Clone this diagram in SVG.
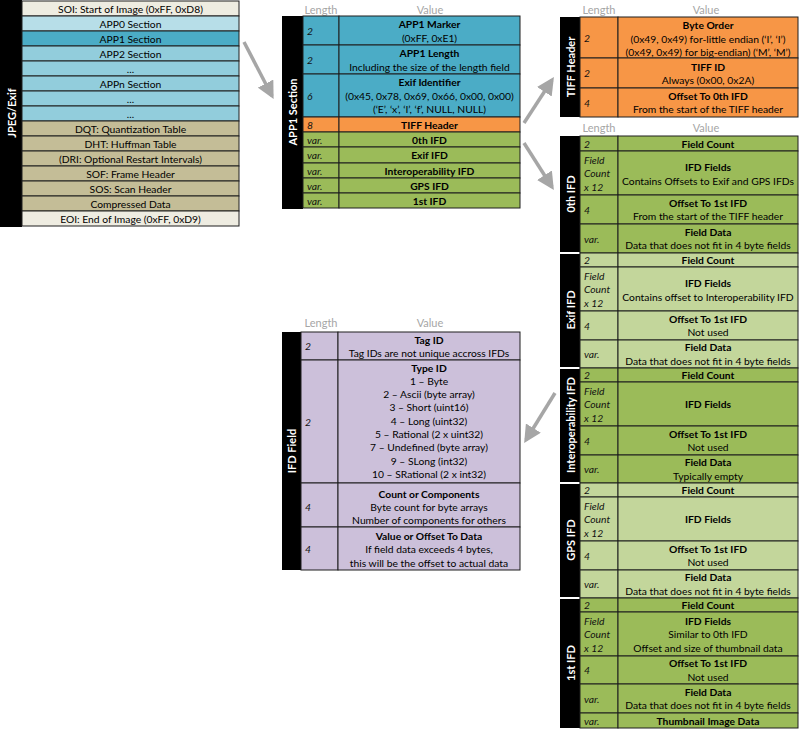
<svg xmlns="http://www.w3.org/2000/svg" width="800" height="730" viewBox="0 0 800 730">
<style>
  text { font-family: Lato, "Open Sans", "Liberation Sans", sans-serif; font-size: 10.3px; fill: #000; text-anchor: middle; dominant-baseline: central; }
  .b { font-weight: bold; }
  .len { text-anchor: start; font-style: italic; fill: #111; }
  .hdr { fill: #a6a6a6; font-size: 11px; }
  .side { fill: #fff; font-weight: bold; font-size: 11px; }
  .bar { fill: #000; }
  .cell { stroke: #1e1e1e; stroke-width: 1; }
  .beige { fill: #eeece1; }
  .lb { fill: #b7dee8; }
  .mb { fill: #92cddc; }
  .blue { fill: #4bacc6; }
  .tan { fill: #c4bd97; }
  .orange { fill: #f79646; }
  .green { fill: #9bbb59; }
  .lgreen { fill: #c3d69b; }
  .purple { fill: #ccc0da; }
  .arrow { stroke: #a6a6a6; stroke-width: 3.5; fill: none; marker-end: url(#head); }
</style>
<defs>
  <marker id="head" viewBox="0 0 10 10" refX="8" refY="5" markerWidth="5" markerHeight="5" orient="auto" markerUnits="strokeWidth">
    <path d="M0,0 L10,5 L0,10 z" fill="#a6a6a6"/>
  </marker>
</defs>
<rect width="800" height="730" fill="#fff"/>

<!-- JPEG/Exif file layout -->
<g id="jpeg-exif">
  <rect class="bar" x="0" y="0" width="22" height="227"/>
  <text class="side" transform="translate(11,113) rotate(-90)">JPEG/Exif</text>
  <rect class="cell beige" x="22" y="1" width="217" height="15"/><text x="130.5" y="8.5">SOI: Start of Image (0xFF, 0xD8)</text>
  <rect class="cell lb" x="22" y="16" width="217" height="15"/><text x="130.5" y="23.5">APP0 Section</text>
  <rect class="cell blue" x="22" y="31" width="217" height="15"/><text x="130.5" y="38.5">APP1 Section</text>
  <rect class="cell mb" x="22" y="46" width="217" height="15"/><text x="130.5" y="53.5">APP2 Section</text>
  <rect class="cell mb" x="22" y="61" width="217" height="15"/><text x="130.5" y="68.5">...</text>
  <rect class="cell mb" x="22" y="76" width="217" height="15"/><text x="130.5" y="83.5">APPn Section</text>
  <rect class="cell mb" x="22" y="91" width="217" height="15"/><text x="130.5" y="98.5">...</text>
  <rect class="cell mb" x="22" y="106" width="217" height="15"/><text x="130.5" y="113.5">...</text>
  <rect class="cell tan" x="22" y="121" width="217" height="15"/><text x="130.5" y="128.5">DQT: Quantization Table</text>
  <rect class="cell tan" x="22" y="136" width="217" height="15"/><text x="130.5" y="143.5">DHT: Huffman Table</text>
  <rect class="cell tan" x="22" y="151" width="217" height="15"/><text x="130.5" y="158.5">(DRI: Optional Restart Intervals)</text>
  <rect class="cell tan" x="22" y="166" width="217" height="15"/><text x="130.5" y="173.5">SOF: Frame Header</text>
  <rect class="cell tan" x="22" y="181" width="217" height="15"/><text x="130.5" y="188.5">SOS: Scan Header</text>
  <rect class="cell tan" x="22" y="196" width="217" height="15"/><text x="130.5" y="203.5">Compressed Data</text>
  <rect class="cell beige" x="22" y="211" width="217" height="15"/><text x="130.5" y="218.5">EOI: End of Image (0xFF, 0xD9)</text>
</g>

<!-- APP1 section -->
<g id="app1-section">
  <text class="hdr" x="321" y="9">Length</text><text class="hdr" x="430" y="9">Value</text>
  <rect class="bar" x="282" y="16" width="21" height="193"/>
  <text class="side" transform="translate(292.5,112) rotate(-90)">APP1 Section</text>
  <rect class="cell blue" x="303" y="16" width="36" height="29"/><rect class="cell blue" x="339" y="16" width="181" height="29"/>
  <text class="len" x="307" y="30.5">2</text><text class="b" x="429.5" y="24">APP1 Marker</text><text x="429.5" y="38">(0xFF, 0xE1)</text>
  <rect class="cell blue" x="303" y="45" width="36" height="29"/><rect class="cell blue" x="339" y="45" width="181" height="29"/>
  <text class="len" x="307" y="59.5">2</text><text class="b" x="429.5" y="53">APP1 Length</text><text x="429.5" y="67">Including the size of the length field</text>
  <rect class="cell blue" x="303" y="74" width="36" height="43"/><rect class="cell blue" x="339" y="74" width="181" height="43"/>
  <text class="len" x="307" y="95.5">6</text><text class="b" x="429.5" y="82">Exif Identifier</text><text x="429.5" y="95.5">(0x45, 0x78, 0x69, 0x66, 0x00, 0x00)</text><text x="429.5" y="109">(‘E’, ‘x’, ‘I’, ‘f’, NULL, NULL)</text>
  <rect class="cell orange" x="303" y="117" width="36" height="15"/><rect class="cell orange" x="339" y="117" width="181" height="15"/>
  <text class="len" x="307" y="124.5">8</text><text class="b" x="429.5" y="124.5">TIFF Header</text>
  <rect class="cell green" x="303" y="132" width="36" height="15"/><rect class="cell green" x="339" y="132" width="181" height="15"/>
  <text class="len" x="307" y="139.5">var.</text><text class="b" x="429.5" y="139.5">0th IFD</text>
  <rect class="cell green" x="303" y="147" width="36" height="16"/><rect class="cell green" x="339" y="147" width="181" height="16"/>
  <text class="len" x="307" y="155">var.</text><text class="b" x="429.5" y="155">Exif IFD</text>
  <rect class="cell green" x="303" y="163" width="36" height="15"/><rect class="cell green" x="339" y="163" width="181" height="15"/>
  <text class="len" x="307" y="170.5">var.</text><text class="b" x="429.5" y="170.5">Interoperability IFD</text>
  <rect class="cell green" x="303" y="178" width="36" height="15"/><rect class="cell green" x="339" y="178" width="181" height="15"/>
  <text class="len" x="307" y="185.5">var.</text><text class="b" x="429.5" y="185.5">GPS IFD</text>
  <rect class="cell green" x="303" y="193" width="36" height="15"/><rect class="cell green" x="339" y="193" width="181" height="15"/>
  <text class="len" x="307" y="200.5">var.</text><text class="b" x="429.5" y="200.5">1st IFD</text>
</g>

<!-- TIFF header -->
<g id="tiff-header">
  <text class="hdr" x="599" y="9">Length</text><text class="hdr" x="706" y="9">Value</text>
  <rect class="bar" x="560" y="17" width="20" height="100"/>
  <text class="side" transform="translate(570,67) rotate(-90)">TIFF Header</text>
  <rect class="cell orange" x="580" y="17" width="38" height="41"/><rect class="cell orange" x="618" y="17" width="180" height="41"/>
  <text class="len" x="584" y="37.5">2</text><text class="b" x="708" y="25">Byte Order</text><text x="708" y="38.5">(0x49, 0x49) for-little endian (‘I’, ‘I’)</text><text x="708" y="52">(0x49, 0x49) for big-endian) (‘M’, ‘M’)</text>
  <rect class="cell orange" x="580" y="58" width="38" height="30"/><rect class="cell orange" x="618" y="58" width="180" height="30"/>
  <text class="len" x="584" y="73">2</text><text class="b" x="708" y="66.5">TIFF ID</text><text x="708" y="80">Always (0x00, 0x2A)</text>
  <rect class="cell orange" x="580" y="88" width="38" height="29"/><rect class="cell orange" x="618" y="88" width="180" height="29"/>
  <text class="len" x="584" y="102.5">4</text><text class="b" x="708" y="95.5">Offset To 0th IFD</text><text x="708" y="109">From the start of the TIFF header</text>
</g>

<!-- 0th IFD -->
<g id="ifd-0th">
  <text class="hdr" x="599" y="127">Length</text><text class="hdr" x="706" y="127">Value</text>
  <rect class="bar" x="560" y="136" width="20" height="116"/>
  <text class="side" transform="translate(570,194) rotate(-90)">0th IFD</text>
  <rect class="cell green" x="580" y="136" width="38" height="15"/><rect class="cell green" x="618" y="136" width="180" height="15"/>
  <text class="len" x="584" y="143.5">2</text><text class="b" x="708" y="143.5">Field Count</text>
  <rect class="cell green" x="580" y="151" width="38" height="44"/><rect class="cell green" x="618" y="151" width="180" height="44"/>
  <text class="len" x="584" y="159.5">Field</text><text class="len" x="584" y="173">Count</text><text class="len" x="584" y="186.5">x 12</text>
  <text class="b" x="708" y="166.5">IFD Fields</text><text x="708" y="180.5">Contains Offsets to Exif and GPS IFDs</text>
  <rect class="cell green" x="580" y="195" width="38" height="29"/><rect class="cell green" x="618" y="195" width="180" height="29"/>
  <text class="len" x="584" y="209.5">4</text><text class="b" x="708" y="202.5">Offset To 1st IFD</text><text x="708" y="216">From the start of the TIFF header</text>
  <rect class="cell green" x="580" y="224" width="38" height="29"/><rect class="cell green" x="618" y="224" width="180" height="29"/>
  <text class="len" x="584" y="238.5">var.</text><text class="b" x="708" y="231.5">Field Data</text><text x="708" y="245">Data that does not fit in 4 byte fields</text>
</g>

<!-- Exif IFD -->
<g id="ifd-exif">
  <rect class="bar" x="560" y="254" width="20" height="113"/>
  <text class="side" transform="translate(570,310) rotate(-90)">Exif IFD</text>
  <rect class="cell lgreen" x="580" y="253" width="38" height="14"/><rect class="cell lgreen" x="618" y="253" width="180" height="14"/>
  <text class="len" x="584" y="260">2</text><text class="b" x="708" y="260">Field Count</text>
  <rect class="cell lgreen" x="580" y="267" width="38" height="44"/><rect class="cell lgreen" x="618" y="267" width="180" height="44"/>
  <text class="len" x="584" y="275.5">Field</text><text class="len" x="584" y="289">Count</text><text class="len" x="584" y="302.5">x 12</text>
  <text class="b" x="708" y="282.5">IFD Fields</text><text x="708" y="296.5">Contains offset to Interoperability IFD</text>
  <rect class="cell lgreen" x="580" y="311" width="38" height="29"/><rect class="cell lgreen" x="618" y="311" width="180" height="29"/>
  <text class="len" x="584" y="325.5">4</text><text class="b" x="708" y="318.5">Offset To 1st IFD</text><text x="708" y="332">Not used</text>
  <rect class="cell lgreen" x="580" y="340" width="38" height="28"/><rect class="cell lgreen" x="618" y="340" width="180" height="28"/>
  <text class="len" x="584" y="354">var.</text><text class="b" x="708" y="347">Field Data</text><text x="708" y="360.5">Data that does not fit in 4 byte fields</text>
</g>

<!-- Interoperability IFD -->
<g id="ifd-interop">
  <rect class="bar" x="560" y="369" width="20" height="113"/>
  <text class="side" transform="translate(570,425) rotate(-90)">Interoperability IFD</text>
  <rect class="cell green" x="580" y="368" width="38" height="14"/><rect class="cell green" x="618" y="368" width="180" height="14"/>
  <text class="len" x="584" y="375">2</text><text class="b" x="708" y="375">Field Count</text>
  <rect class="cell green" x="580" y="382" width="38" height="44"/><rect class="cell green" x="618" y="382" width="180" height="44"/>
  <text class="len" x="584" y="390.5">Field</text><text class="len" x="584" y="404">Count</text><text class="len" x="584" y="417.5">x 12</text>
  <text class="b" x="708" y="404">IFD Fields</text>
  <rect class="cell green" x="580" y="426" width="38" height="29"/><rect class="cell green" x="618" y="426" width="180" height="29"/>
  <text class="len" x="584" y="440.5">4</text><text class="b" x="708" y="433.5">Offset To 1st IFD</text><text x="708" y="447">Not used</text>
  <rect class="cell green" x="580" y="455" width="38" height="28"/><rect class="cell green" x="618" y="455" width="180" height="28"/>
  <text class="len" x="584" y="469">var.</text><text class="b" x="708" y="462">Field Data</text><text x="708" y="475.5">Typically empty</text>
</g>

<!-- GPS IFD -->
<g id="ifd-gps">
  <rect class="bar" x="560" y="484" width="20" height="113"/>
  <text class="side" transform="translate(570,540) rotate(-90)">GPS IFD</text>
  <rect class="cell lgreen" x="580" y="483" width="38" height="14"/><rect class="cell lgreen" x="618" y="483" width="180" height="14"/>
  <text class="len" x="584" y="490">2</text><text class="b" x="708" y="490">Field Count</text>
  <rect class="cell lgreen" x="580" y="497" width="38" height="44"/><rect class="cell lgreen" x="618" y="497" width="180" height="44"/>
  <text class="len" x="584" y="505.5">Field</text><text class="len" x="584" y="519">Count</text><text class="len" x="584" y="532.5">x 12</text>
  <text class="b" x="708" y="519">IFD Fields</text>
  <rect class="cell lgreen" x="580" y="541" width="38" height="29"/><rect class="cell lgreen" x="618" y="541" width="180" height="29"/>
  <text class="len" x="584" y="555.5">4</text><text class="b" x="708" y="548.5">Offset To 1st IFD</text><text x="708" y="562">Not used</text>
  <rect class="cell lgreen" x="580" y="570" width="38" height="28"/><rect class="cell lgreen" x="618" y="570" width="180" height="28"/>
  <text class="len" x="584" y="584">var.</text><text class="b" x="708" y="577">Field Data</text><text x="708" y="590.5">Data that does not fit in 4 byte fields</text>
</g>

<!-- 1st IFD -->
<g id="ifd-1st">
  <rect class="bar" x="560" y="599" width="20" height="129"/>
  <text class="side" transform="translate(570,663) rotate(-90)">1st IFD</text>
  <rect class="cell green" x="580" y="598" width="38" height="14"/><rect class="cell green" x="618" y="598" width="180" height="14"/>
  <text class="len" x="584" y="605">2</text><text class="b" x="708" y="605">Field Count</text>
  <rect class="cell green" x="580" y="612" width="38" height="44"/><rect class="cell green" x="618" y="612" width="180" height="44"/>
  <text class="len" x="584" y="621">Field</text><text class="len" x="584" y="634">Count</text><text class="len" x="584" y="647.5">x 12</text>
  <text class="b" x="708" y="621">IFD Fields</text><text x="708" y="634">Similar to 0th IFD</text><text x="708" y="647.5">Offset and size of thumbnail data</text>
  <rect class="cell green" x="580" y="656" width="38" height="28"/><rect class="cell green" x="618" y="656" width="180" height="28"/>
  <text class="len" x="584" y="670">4</text><text class="b" x="708" y="663">Offset To 1st IFD</text><text x="708" y="676.5">Not used</text>
  <rect class="cell green" x="580" y="684" width="38" height="29"/><rect class="cell green" x="618" y="684" width="180" height="29"/>
  <text class="len" x="584" y="698.5">var.</text><text class="b" x="708" y="691.5">Field Data</text><text x="708" y="705">Data that does not fit in 4 byte fields</text>
  <rect class="cell green" x="580" y="713" width="38" height="15"/><rect class="cell green" x="618" y="713" width="180" height="15"/>
  <text class="len" x="584" y="720.5">var.</text><text class="b" x="708" y="720.5">Thumbnail Image Data</text>
</g>

<!-- IFD field entry -->
<g id="ifd-field">
  <text class="hdr" x="321" y="322">Length</text><text class="hdr" x="430" y="322">Value</text>
  <rect class="bar" x="282" y="332" width="19" height="238"/>
  <text class="side" transform="translate(291.5,451) rotate(-90)">IFD Field</text>
  <rect class="cell purple" x="301" y="332" width="37" height="28"/><rect class="cell purple" x="338" y="332" width="182" height="28"/>
  <text class="len" x="305" y="346">2</text><text class="b" x="429" y="339.5">Tag ID</text><text x="429" y="353">Tag IDs are not unique accross IFDs</text>
  <rect class="cell purple" x="301" y="360" width="37" height="123"/><rect class="cell purple" x="338" y="360" width="182" height="123"/>
  <text class="len" x="305" y="421.5">2</text>
  <text class="b" x="429" y="367.5">Type ID</text>
  <text x="429" y="380.8">1 – Byte</text>
  <text x="429" y="394.1">2 – Ascii (byte array)</text>
  <text x="429" y="407.4">3 – Short (uint16)</text>
  <text x="429" y="420.7">4 – Long (uint32)</text>
  <text x="429" y="434">5 – Rational (2 x uint32)</text>
  <text x="429" y="447.3">7 – Undefined (byte array)</text>
  <text x="429" y="460.6">9 – SLong (int32)</text>
  <text x="429" y="473.9">10 – SRational (2 x int32)</text>
  <rect class="cell purple" x="301" y="483" width="37" height="44"/><rect class="cell purple" x="338" y="483" width="182" height="44"/>
  <text class="len" x="305" y="507">4</text><text class="b" x="429" y="494">Count or Components</text><text x="429" y="507">Byte count for byte arrays</text><text x="429" y="520">Number of components for others</text>
  <rect class="cell purple" x="301" y="527" width="37" height="43"/><rect class="cell purple" x="338" y="527" width="182" height="43"/>
  <text class="len" x="305" y="548.5">4</text><text class="b" x="429" y="535.5">Value or Offset To Data</text><text x="429" y="549">If field data exceeds 4 bytes,</text><text x="429" y="562.5">this will be the offset to actual data</text>
</g>

<!-- connectors -->
<g id="connectors">
  <line class="arrow" x1="244" y1="42" x2="272" y2="96"/>
  <line class="arrow" x1="524" y1="123" x2="552" y2="80"/>
  <line class="arrow" x1="524" y1="143" x2="552" y2="187"/>
  <line class="arrow" x1="555" y1="393" x2="526" y2="440"/>
</g>
</svg>
